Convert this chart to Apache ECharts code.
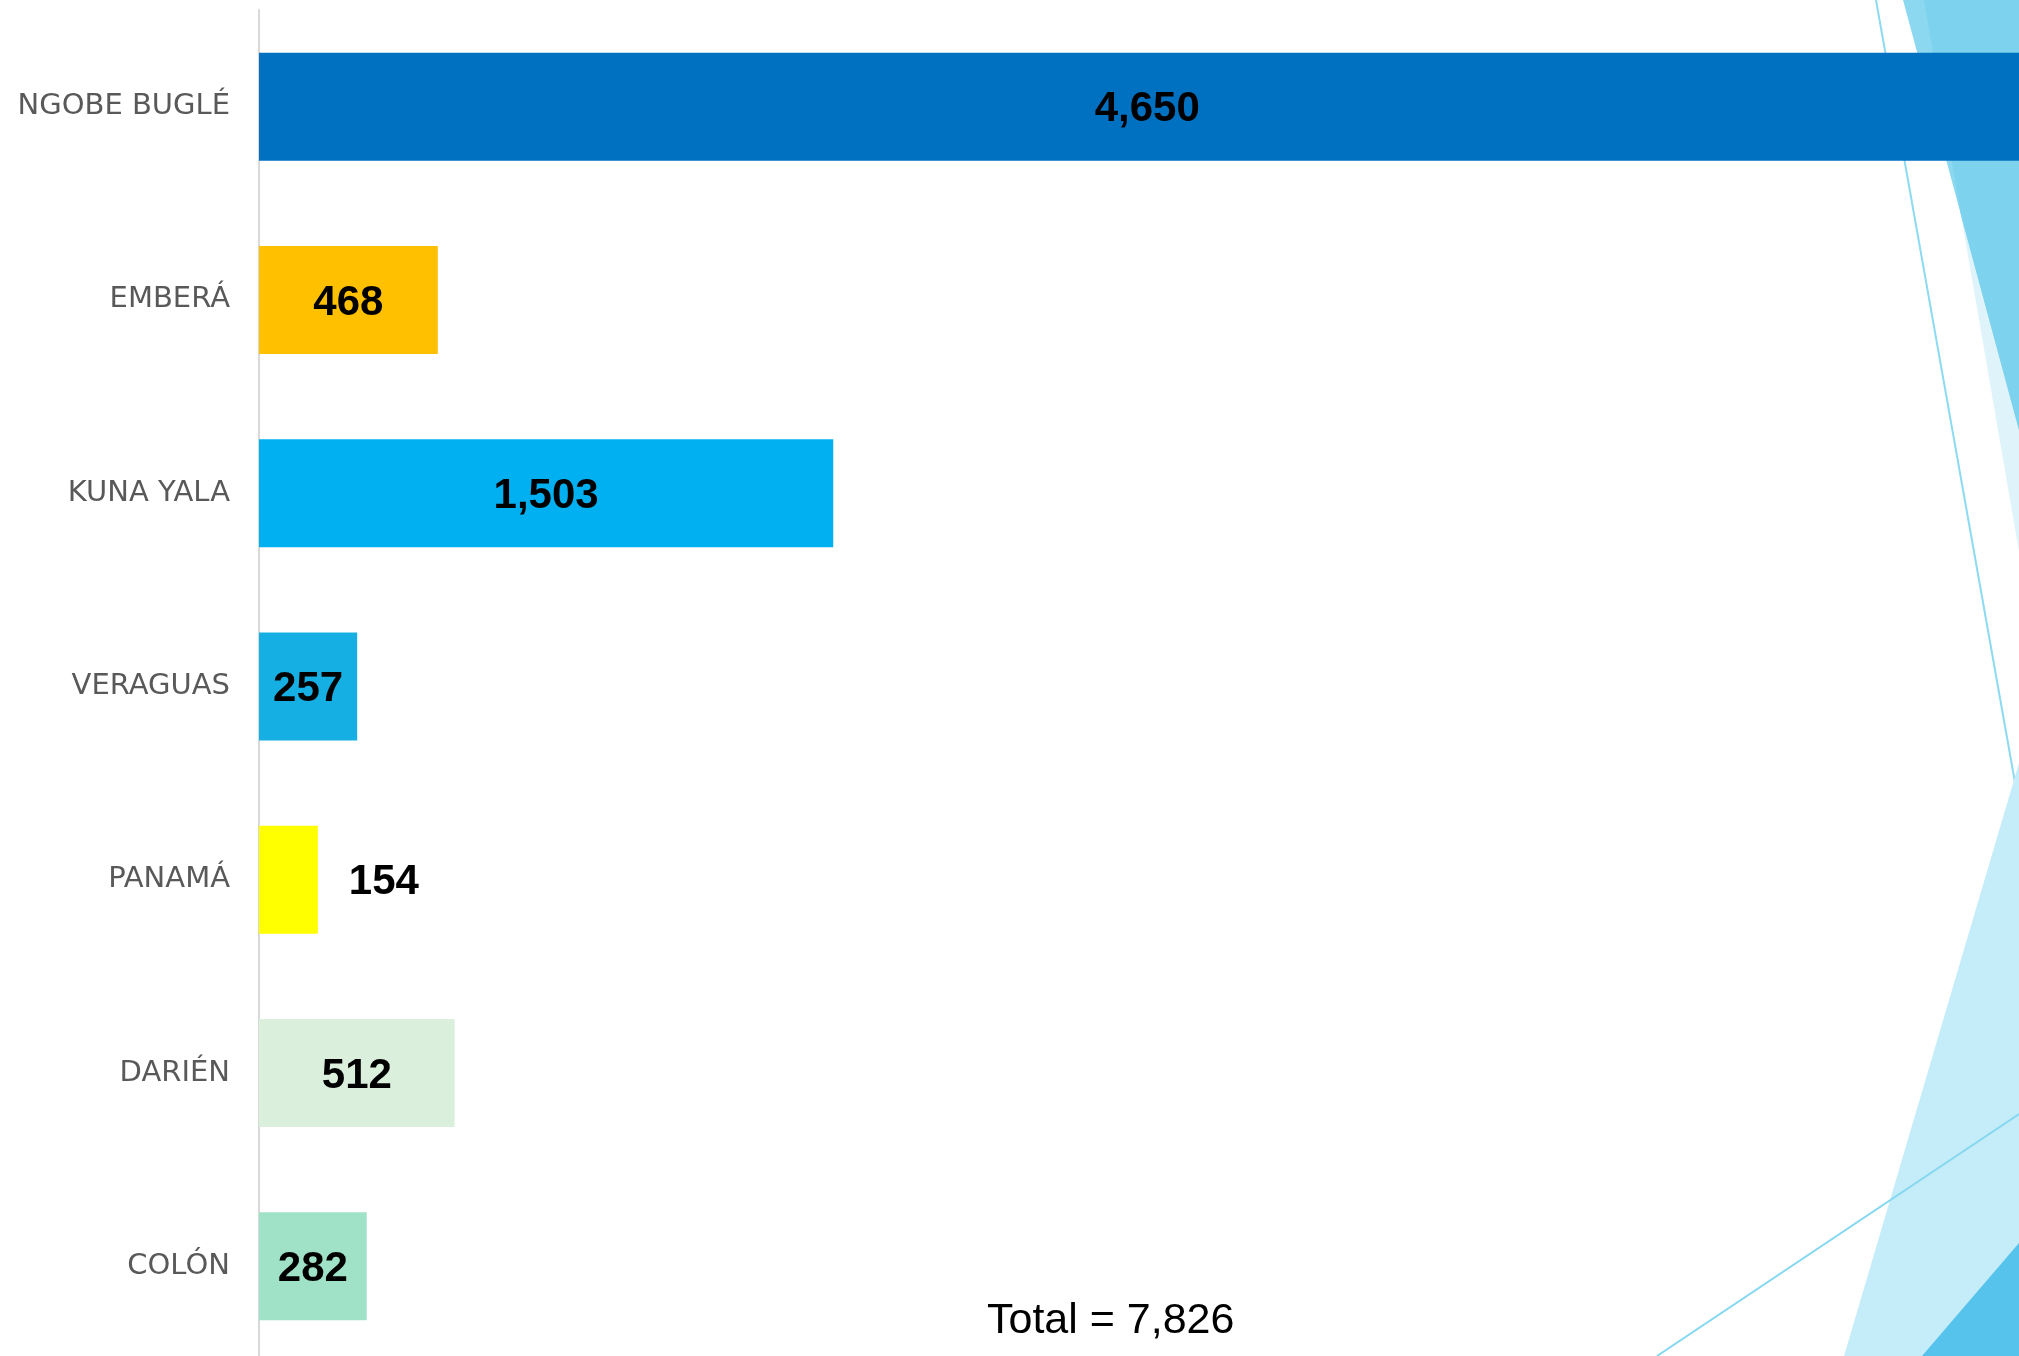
<!DOCTYPE html>
<html>
<head>
<meta charset="utf-8">
<script src="https://cdn.jsdelivr.net/npm/echarts@6/dist/echarts.min.js"></script>
<style>
html,body{margin:0;padding:0;background:#fff;}
#chart{width:2019px;height:1356px;}
</style>
</head>
<body>
<div id="chart"></div>
<script>
const categories = ['NGOBE BUGLÉ', 'EMBERÁ', 'KUNA YALA', 'VERAGUAS', 'PANAMÁ', 'DARIÉN', 'COLÓN'];
const values = [4650, 468, 1503, 257, 154, 512, 282];
const barColors = ['#0070C0', '#FFC000', '#00B0F0', '#16AFE3', '#FFFF00', '#DAEFDC', '#A0E2C8'];
const outsideLabel = [false, false, false, false, true, false, false];

const total = values.reduce((a, b) => a + b, 0);
const fmt = v => v.toLocaleString('en-US');

const chart = echarts.init(document.getElementById('chart'));

const deco = [
  { type: 'polygon', z: 0, shape: { points: [[1924, 0], [2019, 0], [2019, 552]] }, style: { fill: '#DFF3FA' } },
  { type: 'polygon', z: 0, shape: { points: [[1903, 0], [2019, 0], [2019, 430]] }, style: { fill: '#8CD8F1' } },
  { type: 'polygon', z: 0, shape: { points: [[1924, 0], [2019, 0], [2019, 430], [1961, 215]] }, style: { fill: '#7DD2EE' } },
  { type: 'line', z: 0, shape: { x1: 1876, y1: 0, x2: 2019, y2: 805 }, style: { stroke: '#8DDAF2', lineWidth: 2 } },
  { type: 'polygon', z: 0, shape: { points: [[2019, 763], [2019, 1356], [1844, 1356]] }, style: { fill: '#C5ECF9' } },
  { type: 'polygon', z: 0, shape: { points: [[1922, 1356], [2019, 1356], [2019, 1243]] }, style: { fill: '#55C3EB' } },
  { type: 'line', z: 0, shape: { x1: 1657, y1: 1356, x2: 2019, y2: 1114 }, style: { stroke: '#86D8F1', lineWidth: 2 } }
];

chart.setOption({
  animation: false,
  backgroundColor: '#ffffff',
  title: {
    text: 'Total = ' + fmt(total),
    left: 982,
    top: 1295,
    textStyle: { fontFamily: 'Liberation Sans', fontSize: 43, fontWeight: 'normal', color: '#000000' }
  },
  graphic: deco,
  grid: { left: 259, top: 10, width: 1895, height: 1353, containLabel: false, outerBoundsMode: 'none' },
  xAxis: {
    type: 'value',
    min: 0,
    max: 4960,
    show: false
  },
  yAxis: {
    type: 'category',
    data: categories,
    inverse: true,
    axisLine: { show: true, lineStyle: { color: '#D9D9D9', width: 2 } },
    axisTick: { show: false },
    axisLabel: {
      margin: 29,
      fontFamily: 'DejaVu Sans',
      fontSize: 29,
      color: '#595959'
    },
    splitLine: { show: false }
  },
  series: [{
    type: 'bar',
    z: 2,
    barWidth: 108,
    data: values.map((v, i) => ({
      value: v,
      itemStyle: { color: barColors[i] },
      label: outsideLabel[i] ? { position: 'right', distance: 31 } : { position: 'inside' }
    })),
    label: {
      show: true,
      offset: [0, 3],
      fontFamily: 'Liberation Sans',
      fontSize: 42,
      fontWeight: 'bold',
      color: '#000000',
      formatter: p => fmt(p.value)
    }
  }]
});
</script>
</body>
</html>
